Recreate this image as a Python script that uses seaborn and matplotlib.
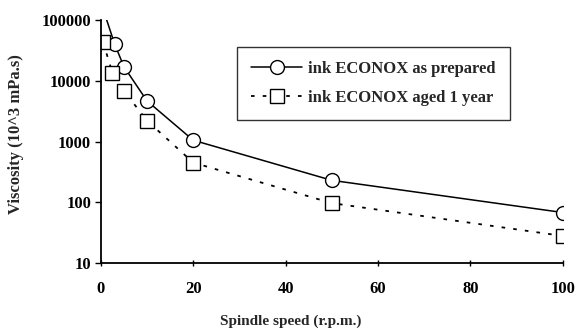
import matplotlib
matplotlib.use("Agg")
import matplotlib.pyplot as plt
import matplotlib.ticker as mticker
import seaborn as sns

# Data
speed_prepared = [0.5, 3, 5, 10, 20, 50, 100]
visc_prepared = [150000, 40000, 17000, 4650, 1050, 230, 68]

speed_aged = [0.5, 2.5, 5, 10, 20, 50, 100]
visc_aged = [43000, 13500, 6800, 2200, 450, 97, 28]

x_ticks = [0, 20, 40, 60, 80, 100]
y_ticks = [10, 100, 1000, 10000, 100000]

sns.set_theme(style="white")
plt.rcParams["font.family"] = ["Liberation Serif", "DejaVu Serif"]
plt.rcParams["font.weight"] = "bold"

fig = plt.figure(figsize=(5.76, 3.31), dpi=100)
ax = fig.add_axes([0.175, 0.205, 0.802, 0.735])

sns.lineplot(
    x=speed_prepared, y=visc_prepared, ax=ax,
    color="black", linewidth=1.1, linestyle="-",
    marker="o", markersize=10, markerfacecolor="white",
    markeredgecolor="black", markeredgewidth=1.0,
    label="ink ECONOX as prepared",
)
sns.lineplot(
    x=speed_aged, y=visc_aged, ax=ax,
    color="black", linewidth=1.3, linestyle=(0, (2, 4.5)),
    marker="s", markersize=10, markerfacecolor="white",
    markeredgecolor="black", markeredgewidth=1.0,
    label="ink ECONOX aged 1 year",
)

ax.set_yscale("log")
ax.set_xlim(0, 100)
ax.set_ylim(10, 100000)
ax.set_xticks(x_ticks)
ax.set_yticks(y_ticks)
ax.yaxis.set_major_formatter(mticker.FuncFormatter(lambda v, p: f"{int(round(v))}"))
ax.yaxis.set_minor_locator(mticker.NullLocator())

for s in ["top", "right"]:
    ax.spines[s].set_visible(False)
for s in ["left", "bottom"]:
    ax.spines[s].set_color("black")
    ax.spines[s].set_linewidth(1.3)

ax.tick_params(axis="y", direction="out", length=4, width=1, colors="black",
               labelsize=12, pad=3, left=True)
ax.tick_params(axis="x", direction="inout", length=5, width=1, colors="black",
               labelsize=12, pad=10, bottom=True)

ax.set_xlabel("Spindle speed (r.p.m.)", fontsize=11, fontweight="bold")
ax.xaxis.set_label_coords(0.41, -0.21)
ax.set_ylabel("Viscosity (10^3 mPa.s)", fontsize=12, fontweight="bold")
ax.yaxis.set_label_coords(-0.166, 0.53)

leg = ax.legend(
    loc="upper left", bbox_to_anchor=(0.294, 0.889), frameon=True,
    fancybox=False, edgecolor="black", fontsize=12, handlelength=3.1,
    borderpad=0.85, labelspacing=0.75, handletextpad=0.35, borderaxespad=0,
)
leg.get_frame().set_linewidth(1.0)

fig.savefig("out.png", dpi=100, facecolor="white")
